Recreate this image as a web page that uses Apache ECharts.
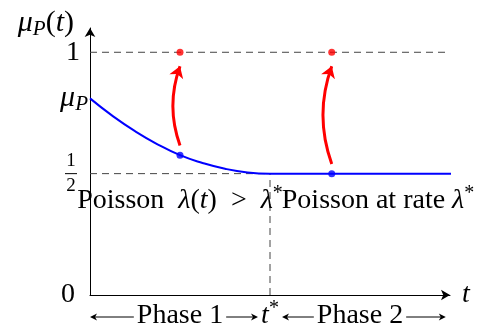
<!DOCTYPE html>
<html>
<head>
<meta charset="utf-8">
<script src="https://cdn.jsdelivr.net/npm/echarts@6/dist/echarts.min.js"></script>
<style>
  html, body { margin: 0; padding: 0; background: #fff; }
  #chart { width: 492px; height: 328px; }
</style>
</head>
<body>
<div id="chart"></div>
<script>
// Time measured in units of the switch time t* (t* = 1).
const T_STAR = 1;
const T_END = 2.01;
const X_MAX = 2.0;
const Y_MAX = 1.1;
const MU_P = 0.81;

// Mean of the process: decays from mu_P to 1/2 during phase 1, flat in phase 2.
const curveT  = [0, 0.125, 0.25, 0.375, 0.5, 0.625, 0.75, 0.875, 1, 1.25, 1.5, 2.01];
const curveMu = [0.81, 0.738, 0.675, 0.621, 0.576, 0.544, 0.52, 0.505, 0.5, 0.5, 0.5, 0.5];

// Instants where a jump to 1 is shown, one per phase.
const sampleT  = [0.5, 1.343];
const sampleMu = [0.576, 0.5];
const jumpMu   = [1, 1];

// Values marked on the vertical axis.
const yTickValues = [0, 0.5, MU_P, 1];

// Annotation text anchors (t, mu).
const phaseLabels = ['Phase 1', 'Phase 2'];
const phaseLabelT = [0.5, 1.5];
const regimeLabelT = [0.5, 1.6];
const regimeLabelMu = 0.39;

const SERIF = '"Liberation Serif", "DejaVu Serif", serif';
const FS = 28;
const INK = '#000';
const BLUE = '#0000ff';
const RED = '#ff0000';
const DASH = '#444';

function richFor(colorKey, size) {
  const fs = size || FS;
  const c = {};
  c[colorKey] = INK;
  return {
    r:   Object.assign({fontFamily: SERIF, fontSize: fs, lineHeight: 34, verticalAlign: 'middle'}, c),
    i:   Object.assign({fontFamily: SERIF, fontSize: fs, fontStyle: 'italic', lineHeight: 34, verticalAlign: 'middle'}, c),
    sub: Object.assign({fontFamily: SERIF, fontSize: Math.round(fs * 0.7), fontStyle: 'italic', lineHeight: 20, verticalAlign: 'bottom'}, c),
    sup: Object.assign({fontFamily: SERIF, fontSize: Math.round(fs * 0.7), lineHeight: 26, verticalAlign: 'top'}, c),
    gap: {width: 16}
  };
}

const axisRich = Object.assign(richFor('color', 30), {
  one:  {fontFamily: SERIF, fontSize: FS, color: INK, padding: [0, 8, 0, 0]},
  zero: {fontFamily: SERIF, fontSize: FS, color: INK, padding: [0, 13, 0, 0]},
  fn:   {fontFamily: SERIF, fontSize: 19, color: INK, width: 12, align: 'center', lineHeight: 13},
  fb:   {width: 12, height: 1, backgroundColor: INK, lineHeight: 3},
  sp:   {width: 11}
});

function yLabel(v) {
  if (Math.abs(v - 1) < 1e-6) return '{one|1}';
  if (Math.abs(v - MU_P) < 1e-6) return '{i|μ}{sub|P}';
  if (Math.abs(v - 0.5) < 1e-6) return '{fn|1}{sp|}\n{fb|}{sp|}\n{fn|2}{sp|}';
  if (Math.abs(v) < 1e-6) return '{zero|0}';
  return '';
}

const chart = echarts.init(document.getElementById('chart'), null, {renderer: 'canvas'});

const axisLineStyle = {color: INK, width: 1};
const dashed = {color: DASH, width: 1, type: [7, 5]};

chart.setOption({
  animation: false,
  backgroundColor: '#fff',
  grid: {left: 90, right: 42, top: 28, bottom: 33, outerBoundsMode: 'none'},
  xAxis: {
    type: 'value', min: 0, max: X_MAX,
    axisLine: {show: true, onZero: false, lineStyle: axisLineStyle, symbol: ['none', 'arrow'], symbolSize: [8, 9]},
    axisTick: {show: false}, axisLabel: {show: false}, splitLine: {show: false},
    name: '{i|t}', nameLocation: 'end', nameGap: 12, nameMoveOverlap: false,
    nameTextStyle: {rich: richFor('color')}
  },
  yAxis: {
    type: 'value', min: 0, max: Y_MAX,
    axisLine: {show: true, onZero: false, lineStyle: axisLineStyle, symbol: ['none', 'arrow'], symbolSize: [8, 9]},
    axisTick: {show: false}, splitLine: {show: false},
    axisLabel: {
      show: true, margin: 2, customValues: yTickValues, formatter: yLabel,
      rich: axisRich, align: 'right', verticalAlign: 'middle'
    },
    name: '{i|μ}{sub|P}{r|(}{i|t}{r|)}{gap|}', nameLocation: 'end', nameGap: 5, nameMoveOverlap: false,
    nameTextStyle: {rich: richFor('color', 30), align: 'right', verticalAlign: 'middle'}
  },
  series: [
    {
      name: 'level one', type: 'line', showSymbol: false, silent: true, z: 1,
      lineStyle: dashed, data: [[0, 1], [X_MAX - 0.01, 1]]
    },
    {
      name: 'level half', type: 'line', showSymbol: false, silent: true, z: 1,
      lineStyle: dashed, data: [[0, 0.5], [T_STAR, 0.5]]
    },
    {
      name: 'switch time', type: 'line', showSymbol: false, silent: true, z: 1,
      lineStyle: dashed, data: [[T_STAR, 0], [T_STAR, 0.5]]
    },
    {
      name: 'mean', type: 'line', showSymbol: false, silent: true, z: 3, clip: false,
      smooth: 0.5,
      lineStyle: {color: BLUE, width: 2},
      data: curveT.map((t, i) => [t, curveMu[i]])
    },
    {
      // jumps from the current mean up to 1, drawn as bowed arrows
      name: 'jump arrow', type: 'lines', coordinateSystem: 'cartesian2d', silent: true, z: 4,
      symbol: ['none', 'arrow'], symbolSize: 11,
      lineStyle: {color: RED, width: 3, opacity: 1, curveness: 0.18},
      data: sampleT.map((t, i) => ({coords: [[t, sampleMu[i] + 0.04], [t, jumpMu[i] - 0.058]]}))
    },
    {
      name: 'sample', type: 'scatter', silent: true, z: 5, symbolSize: 7,
      itemStyle: {color: BLUE},
      data: sampleT.map((t, i) => [t, sampleMu[i]])
    },
    {
      name: 'jump', type: 'scatter', silent: true, z: 5, symbolSize: 7,
      itemStyle: {color: RED},
      data: sampleT.map((t, i) => [t, jumpMu[i]])
    }
  ]
});

// Text annotations placed with the axes' own scale.
const px = (t, mu) => chart.convertToPixel({gridIndex: 0}, [t, mu]);
const gRich = richFor('fill');
const measureCtx = document.createElement('canvas').getContext('2d');
function textWidth(str) {
  measureCtx.font = FS + 'px "Liberation Serif"';
  return measureCtx.measureText(str).width;
}

function label(text, x, y) {
  return {
    type: 'text', x: x, y: y, silent: true, z: 10,
    style: {text: text, rich: gRich, align: 'center', verticalAlign: 'middle', fill: INK,
            fontFamily: SERIF, fontSize: FS}
  };
}

function hArrow(xFrom, xTo, y) {
  const d = Math.sign(xTo - xFrom);
  return [
    {type: 'line', silent: true, z: 10,
     shape: {x1: xFrom, y1: y, x2: xTo - d * 2, y2: y},
     style: {stroke: INK, lineWidth: 1}},
    {type: 'polygon', silent: true, z: 10,
     shape: {points: [[xTo - d * 7, y - 3.5], [xTo, y], [xTo - d * 7, y + 3.5], [xTo - d * 5, y]]},
     style: {fill: INK}}
  ];
}

const origin = px(0, 0);
const rowY = origin[1] + 21;
const arrowY = rowY + 1;
const starX = px(T_STAR, 0)[0];
const endX = px(T_END, 0)[0] - 6;
const tStarHalf = 12;
const phaseW = phaseLabels.map(textWidth);

const elements = [];
// Regime descriptions inside the plot.
const r1 = px(regimeLabelT[0], regimeLabelMu);
const r2 = px(regimeLabelT[1], regimeLabelMu);
elements.push(label('{r|Poisson  }{i|λ}{r|(}{i|t}{r|)  >  }{i|λ}{sup|*}', r1[0], r1[1]));
elements.push(label('{r|Poisson at rate }{i|λ}{sup|*}', r2[0], r2[1]));

// Phase bar under the time axis.
const c1 = px(phaseLabelT[0], 0)[0];
const c2 = px(phaseLabelT[1], 0)[0];
elements.push(label('{r|' + phaseLabels[0] + '}', c1, rowY));
elements.push(label('{r|' + phaseLabels[1] + '}', c2, rowY));
elements.push(label('{i|t}{sup|*}', starX, rowY));
elements.push(...hArrow(c1 - phaseW[0] / 2 - 3, origin[0], arrowY));
elements.push(...hArrow(c1 + phaseW[0] / 2 + 3, starX - tStarHalf, arrowY));
elements.push(...hArrow(c2 - phaseW[1] / 2 - 3, starX + tStarHalf, arrowY));
elements.push(...hArrow(c2 + phaseW[1] / 2 + 3, endX, arrowY));

chart.setOption({graphic: {elements: elements}});
</script>
</body>
</html>
